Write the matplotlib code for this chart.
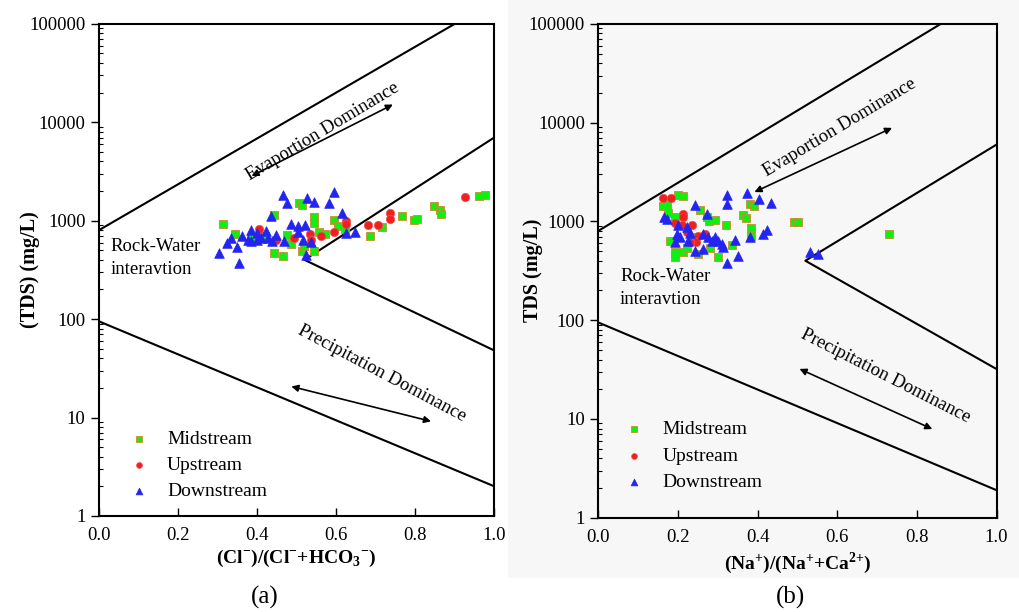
import numpy
import matplotlib
matplotlib.use("Agg")
import matplotlib.pyplot as plt
from matplotlib.patches import Rectangle

plt.rcParams['font.family'] = ['Liberation Serif', 'DejaVu Serif']
plt.rcParams['mathtext.fontset'] = 'custom'
plt.rcParams['mathtext.rm'] = 'Liberation Serif'
plt.rcParams['mathtext.bf'] = 'Liberation Serif:bold'

# (a) Cl/(Cl+HCO3) vs TDS
a_mid_x = [0.315, 0.344, 0.442, 0.505, 0.514, 0.545, 0.545, 0.595, 0.605, 0.476, 0.442,
           0.465, 0.513, 0.544, 0.520, 0.558, 0.571, 0.622, 0.685, 0.715, 0.766, 0.796,
           0.804, 0.847, 0.864, 0.866, 0.961, 0.976, 0.384, 0.486, 0.420]
a_mid_y = [932, 737, 1150, 1516, 1433, 1090, 947, 1023, 889, 714, 475,
           440, 493, 493, 556, 760, 737, 822, 703, 862, 1125, 1007,
           1040, 1422, 1295, 1179, 1800, 1830, 666, 582, 691]
a_up_x = [0.405, 0.448, 0.494, 0.535, 0.562, 0.595, 0.626, 0.626, 0.681, 0.705,
          0.736, 0.736, 0.927, 0.537]
a_up_y = [822, 640, 666, 736, 703, 760, 984, 932, 910, 910,
          1198, 1040, 1745, 640]
a_down_x = [0.465, 0.476, 0.527, 0.545, 0.595, 0.583, 0.615, 0.435, 0.486, 0.504,
            0.522, 0.384, 0.401, 0.422, 0.448, 0.427, 0.401, 0.376, 0.363, 0.333,
            0.325, 0.350, 0.304, 0.354, 0.384, 0.439, 0.468, 0.503, 0.516, 0.524,
            0.626, 0.647, 0.537, 0.410]
a_down_y = [1842, 1516, 1700, 1560, 1945, 1530, 1207, 1106, 932, 889,
            910, 796, 754, 778, 720, 670, 630, 640, 691, 670,
            592, 539, 475, 370, 616, 616, 616, 760, 640, 450,
            749, 760, 603, 670]

# (b) Na/(Na+Ca) vs TDS
b_mid_x = [0.201, 0.212, 0.162, 0.172, 0.176, 0.193, 0.256, 0.272, 0.279, 0.293,
           0.321, 0.381, 0.391, 0.363, 0.371, 0.383, 0.383, 0.491, 0.502, 0.730,
           0.180, 0.193, 0.193, 0.212, 0.222, 0.251, 0.281, 0.301, 0.335, 0.239]
b_mid_y = [1842, 1812, 1422, 1457, 1216, 1106, 1316, 1106, 1007, 1040,
           910, 1516, 1433, 1150, 1090, 862, 720, 984, 984, 749,
           630, 486, 432, 486, 539, 468, 539, 440, 582, 691]
b_up_x = [0.164, 0.182, 0.212, 0.214, 0.193, 0.210, 0.235, 0.222, 0.251, 0.268,
          0.246, 0.231]
b_up_y = [1745, 1745, 1198, 1106, 962, 910, 910, 778, 720, 749,
          616, 616]
b_down_x = [0.165, 0.174, 0.243, 0.272, 0.323, 0.323, 0.373, 0.404, 0.433, 0.201,
            0.222, 0.197, 0.206, 0.226, 0.193, 0.264, 0.276, 0.285, 0.301, 0.310,
            0.314, 0.343, 0.264, 0.243, 0.352, 0.323, 0.381, 0.413, 0.423, 0.531,
            0.552, 0.231, 0.293]
b_down_y = [1106, 1066, 1457, 1198, 1842, 1516, 1945, 1703, 1552, 910,
            875, 749, 691, 640, 616, 749, 691, 630, 640, 592,
            547, 650, 527, 506, 450, 376, 691, 749, 810, 486,
            468, 760, 691]

# Gibbs boundary lines
top_x = [0.0, 0.9]
top_y = [800, 100000]
low_x = [0.0, 1.0]
low_y = [95, 2]
a_wedge_x = [1.0, 0.52, 1.0]
a_wedge_y = [7000, 400, 48]
b_top_x = [0.0, 0.86]
b_wedge_x = [1.0, 0.52, 1.0]
b_wedge_y = [6000, 400, 32]
b_low_y = [95, 1.9]


def draw_panel(ax, mid, up, down, tx, wedge_x, wedge_y, ly, xlabel, ylabel, ylab_x, leg_pos):
    ax.plot(tx, top_y, color='black', lw=1.5)
    ax.plot(low_x, ly, color='black', lw=1.5)
    ax.plot(wedge_x, wedge_y, color='black', lw=1.5)
    ax.scatter(*mid, marker='s', s=30, c='#11ee11', edgecolors='#d08a2a', linewidths=0.6, zorder=3,
               label='Midstream')
    ax.scatter(*up, marker='o', s=36, c='#f02020', edgecolors='#f05050', linewidths=0.5, zorder=3,
               label='Upstream')
    ax.scatter(*down, marker='^', s=48, c='#2424f0', edgecolors='#2424f0', linewidths=0.5, zorder=3,
               label='Downstream')
    ax.set_yscale('log')
    ax.set_xlim(0, 1)
    ax.set_ylim(1, 100000)
    ax.set_xticks([0.0, 0.2, 0.4, 0.6, 0.8, 1.0])
    ax.set_xticklabels(['0.0', '0.2', '0.4', '0.6', '0.8', '1.0'])
    ax.set_yticks([1, 10, 100, 1000, 10000, 100000])
    ax.set_yticklabels(['1', '10', '100', '1000', '10000', '100000'])
    ax.tick_params(axis='x', direction='in', length=6, width=1, labelsize=13.5, pad=8)
    ax.tick_params(axis='y', which='major', direction='out', length=6, width=1, labelsize=13.5)
    ax.tick_params(axis='y', which='minor', direction='in', length=3, width=0.8)
    for s in ax.spines.values():
        s.set_linewidth(1.5)
    ax.set_xlabel(xlabel, fontsize=14, fontweight='bold', labelpad=3)
    ax.set_ylabel(ylabel, fontsize=14.5, fontweight='bold')
    ax.yaxis.set_label_coords(ylab_x, 0.5)
    ax.legend(loc='upper left', bbox_to_anchor=leg_pos, frameon=False, fontsize=14,
              handletextpad=0.7, labelspacing=0.45, scatterpoints=1, markerscale=0.7,
              handlelength=1.5)


fig = plt.figure(figsize=(10.19, 6.12), dpi=100)
fig.patches.append(Rectangle((0.499, 0.055), 0.501, 0.945, transform=fig.transFigure,
                             facecolor='#f7f7f7', edgecolor='none', zorder=-10))
ax1 = fig.add_axes([0.097, 0.157, 0.388, 0.804])
ax2 = fig.add_axes([0.587, 0.154, 0.391, 0.807])
ax2.set_facecolor('#f7f7f7')

draw_panel(ax1, (a_mid_x, a_mid_y), (a_up_x, a_up_y), (a_down_x, a_down_y),
           top_x, a_wedge_x, a_wedge_y, low_y,
           r'(Cl$^{\mathbf{-}}$)/(Cl$^{\mathbf{-}}$+HCO$_{\mathbf{3}}$$^{\mathbf{-}}$)',
           '(TDS) (mg/L)', -0.148, (0.02, 0.21))
draw_panel(ax2, (b_mid_x, b_mid_y), (b_up_x, b_up_y), (b_down_x, b_down_y),
           b_top_x, b_wedge_x, b_wedge_y, b_low_y,
           r'(Na$^{\mathbf{+}}$)/(Na$^{\mathbf{+}}$+Ca$^{\mathbf{2}{\mathbf{+}}}$)',
           'TDS (mg/L)', -0.138, (0.01, 0.232))

arrow = dict(arrowstyle='<|-|>', color='black', lw=1.2, mutation_scale=10)

# panel (a) annotations
ax1.text(0.567, 8000, 'Evaportion Dominance', rotation=31, ha='center', va='center', fontsize=13.5)
ax1.annotate('', xy=(0.75, 15600), xytext=(0.38, 2760), arrowprops=arrow)
ax1.text(0.03, 420, 'Rock-Water\ninteravtion', ha='left', va='center', fontsize=13.5, linespacing=1.45)
ax1.text(0.715, 28, 'Precipitation Dominance', rotation=-28, ha='center', va='center', fontsize=13.5)
ax1.annotate('', xy=(0.847, 9), xytext=(0.48, 21), arrowprops=arrow)

# panel (b) annotations
ax2.text(0.607, 9000, 'Evaportion Dominance', rotation=31, ha='center', va='center', fontsize=13.5)
ax2.annotate('', xy=(0.744, 9100), xytext=(0.386, 1930), arrowprops=arrow)
ax2.text(0.055, 212, 'Rock-Water\ninteravtion', ha='left', va='center', fontsize=13.5, linespacing=1.45)
ax2.text(0.72, 27, 'Precipitation Dominance', rotation=-27, ha='center', va='center', fontsize=13.5)
ax2.annotate('', xy=(0.845, 7.7), xytext=(0.499, 33), arrowprops=arrow)

fig.text(0.26, 0.024, '(a)', ha='center', va='center', fontsize=18)
fig.text(0.776, 0.024, '(b)', ha='center', va='center', fontsize=18)

plt.savefig('out.png', dpi=100)
